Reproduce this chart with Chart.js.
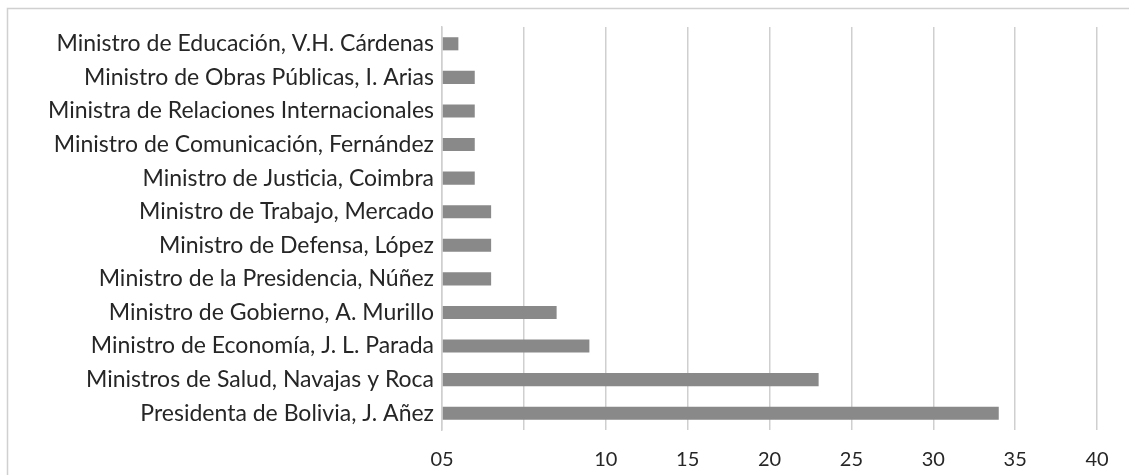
<!DOCTYPE html>
<html>
<head>
<meta charset="utf-8">
<script src="https://cdn.jsdelivr.net/npm/chart.js@4"></script>
<style>
  html, body { margin: 0; padding: 0; background: #fff; }
  #wrap { width: 1129px; height: 475px; position: relative; }
</style>
</head>
<body>
<div id="wrap"><canvas id="chart"></canvas></div>
<script>
// categories, top to bottom
const categories = [
  'Ministro de Educación, V.H. Cárdenas',
  'Ministro de Obras Públicas, I. Arias',
  'Ministra de Relaciones Internacionales',
  'Ministro de Comunicación, Fernández',
  'Ministro de Justicia, Coimbra',
  'Ministro de Trabajo, Mercado',
  'Ministro de Defensa, López',
  'Ministro de la Presidencia, Núñez',
  'Ministro de Gobierno, A. Murillo',
  'Ministro de Economía, J. L. Parada',
  'Ministros de Salud, Navajas y Roca',
  'Presidenta de Bolivia, J. Añez'
];
const values = [1, 2, 2, 2, 2, 3, 3, 3, 7, 9, 23, 34];
// tick labels as printed in the source (0 and 5 run together)
const tickValues = [0, 5, 10, 15, 20, 25, 30, 35, 40];
const tickLabels = ['05', '', '10', '15', '20', '25', '30', '35', '40'];

const FONT = 'Lato, "Noto Sans", sans-serif';

// light frame around the figure
const framePlugin = {
  id: 'frame',
  beforeDraw(chart) {
    const ctx = chart.ctx;
    ctx.save();
    ctx.strokeStyle = '#d0d0d0';
    ctx.lineWidth = 1.5;
    ctx.strokeRect(7.5, 8.5, chart.width + 10, chart.height + 10);
    ctx.restore();
  }
};

new Chart(document.getElementById('chart'), {
  type: 'bar',
  data: {
    labels: categories,
    datasets: [{
      data: values,
      backgroundColor: '#898989',
      barPercentage: 0.39,
      categoryPercentage: 1
    }]
  },
  plugins: [framePlugin],
  options: {
    indexAxis: 'y',
    responsive: true,
    maintainAspectRatio: false,
    animation: false,
    layout: { padding: { top: 27, right: 32, bottom: 0, left: 0 } },
    plugins: {
      legend: { display: false },
      tooltip: { enabled: false }
    },
    scales: {
      x: {
        min: 0,
        max: 40,
        afterBuildTicks(scale) {
          scale.ticks = tickValues.map(v => ({ value: v }));
        },
        afterFit(scale) { scale.height = 45; },
        ticks: {
          callback: (v, i) => tickLabels[i],
          color: '#262626',
          font: { family: FONT, size: 20 },
          padding: 18,
          maxRotation: 0
        },
        grid: { color: '#cfcfcf', lineWidth: 1.5, drawTicks: false },
        border: { display: false }
      },
      y: {
        afterFit(scale) { scale.width = 442; },
        ticks: {
          color: '#262626',
          font: { family: FONT, size: 23 },
          padding: 8
        },
        grid: { display: false, drawTicks: false },
        border: { display: true, color: '#cfcfcf', width: 1.5 }
      }
    }
  }
});
</script>
</body>
</html>
